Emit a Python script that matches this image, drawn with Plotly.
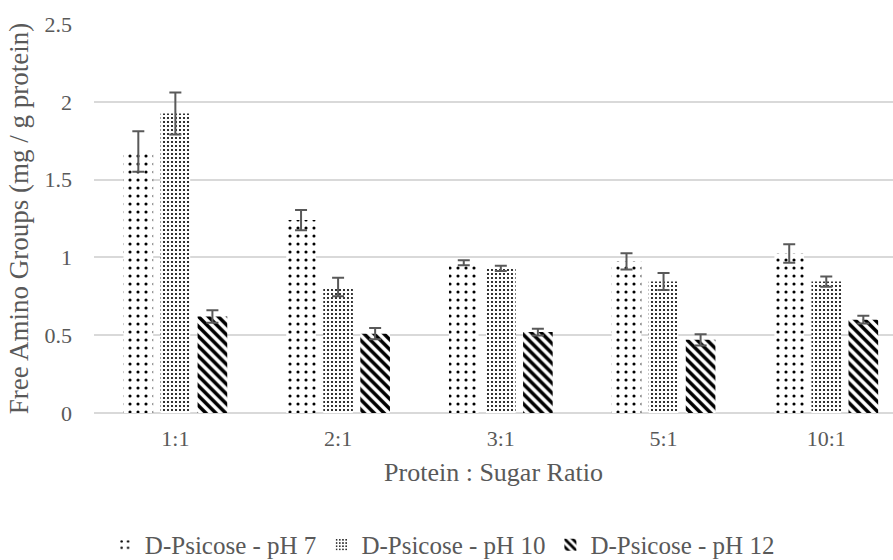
import plotly.graph_objects as go

ratios = ["1:1", "2:1", "3:1", "5:1", "10:1"]
series_names = ["D-Psicose - pH 7", "D-Psicose - pH 10", "D-Psicose - pH 12"]
ph7 = [1.68, 1.24, 0.965, 0.975, 1.025]
ph10 = [1.925, 0.81, 0.93, 0.845, 0.845]
ph12 = [0.62, 0.51, 0.52, 0.47, 0.60]
ph7_err = [0.13, 0.065, 0.016, 0.052, 0.06]
ph10_err = [0.135, 0.06, 0.017, 0.055, 0.033]
ph12_err = [0.04, 0.036, 0.022, 0.036, 0.025]

patterns = [
    dict(shape=".", size=8, solidity=0.12, fgcolor="black", bgcolor="white", fgopacity=1),
    dict(shape=".", size=4, solidity=0.22, fgcolor="black", bgcolor="white", fgopacity=1),
    dict(shape="\\", size=7, solidity=0.5, fgcolor="black", bgcolor="white", fgopacity=1),
]

fig = go.Figure()
for name, vals, errs, pat in zip(series_names, [ph7, ph10, ph12],
                                 [ph7_err, ph10_err, ph12_err], patterns):
    fig.add_trace(go.Bar(
        x=ratios, y=vals, name=name,
        marker=dict(color="white", pattern=pat, line=dict(width=0)),
        error_y=dict(type="data", array=errs, visible=True,
                     color="#595959", thickness=2, width=6),
    ))

serif = "Liberation Serif"
grey = "#595959"
fig.update_layout(
    width=893, height=560,
    margin=dict(l=94, r=0, t=24, b=147, autoexpand=False),
    paper_bgcolor="white", plot_bgcolor="white",
    barmode="group", bargap=0.317, bargroupgap=0.2,
    font=dict(family=serif, size=22, color=grey),
    legend=dict(orientation="h", x=0.436, xanchor="center",
                yref="container", y=0.027, yanchor="middle",
                font=dict(family=serif, size=25, color=grey),
                itemwidth=30, traceorder="normal"),
    xaxis=dict(title=dict(text="Protein : Sugar Ratio", standoff=12,
                          font=dict(family=serif, size=26, color=grey)),
               range=[-0.5, 4.41], showline=False, ticks="",
               ticklabelstandoff=10,
               tickfont=dict(family=serif, size=22, color=grey)),
    yaxis=dict(title=dict(text="Free Amino Groups (mg / g protein)",
                          font=dict(family=serif, size=27, color=grey),
                          standoff=8),
               range=[0, 2.5], dtick=0.5, showgrid=True,
               gridcolor="#d9d9d9", gridwidth=1.5, zeroline=True,
               zerolinecolor="#d9d9d9", zerolinewidth=1.5,
               tickfont=dict(family=serif, size=22, color=grey),
               ticks="", ticklabelstandoff=21),
)

fig.write_html("out.html")
